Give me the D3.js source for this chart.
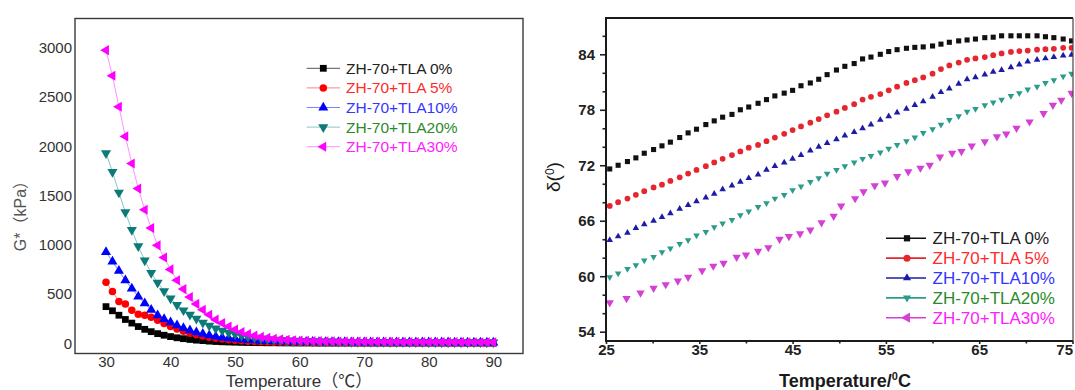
<!DOCTYPE html>
<html>
<head>
<meta charset="utf-8">
<script src="https://cdn.jsdelivr.net/npm/d3@7/dist/d3.min.js"></script>
<style>
  body {margin: 0; background: #fff;}
  svg {display: block;}
</style>
</head>
<body>
<div id="chart"></div>
<script>
// ---- data ----
const seriesNames = ['ZH-70+TLA 0%', 'ZH-70+TLA 5%', 'ZH-70+TLA10%', 'ZH-70+TLA20%', 'ZH-70+TLA30%'];

// left panel: G* (kPa) vs temperature
const tempsG = [30,31,32,33,34,35,36,37,38,39,40,41,42,43,44,45,46,47,48,49,50,51,52,53,54,55,56,57,58,59,
  60,61,62,63,64,65,66,67,68,69,70,71,72,73,74,75,76,77,78,79,80,81,82,83,84,85,86,87,88,89,90];
const gTLA0 = [372,330,285,242,205,170,142,118,98,82, 68,56,47,39,32,27,22,18,15,13, 11,9,8,7,6,5,5,4,4,3,
  3,3,3,2,2,2,2,2,2,2, 2,2,2,2,2,2,2,2,2,2, 2,2,2,2,2,2,2,2,2,2, 2];
const gTLA5 = [620,525,425,400,335,295,285,265,233,200, 170,145,122,103,87,73,61,51,43,36, 30,25,21,18,15,13,11,10,9,8,
  7,7,6,6,6,5,5,5,5,5, 4,4,4,4,4,4,4,3,3,3, 3,3,3,3,3,3,3,3,3,3, 3];
const gTLA10 = [926,830,735,640,555,475,405,340,285,245, 212,182,155,132,112,95,81,69,59,51, 44,38,33,29,26,23,21,19,17,16,
  15,14,14,13,13,12,12,12,11,11, 11,11,10,10,10,10,10,9,9,9, 9,9,9,9,8,8,8,8,8,8, 8];
const gTLA20 = [1930,1740,1530,1330,1150,985,840,715,615,530, 455,390,335,290,250,210,180,152,128,108, 92,78,66,57,49,43,38,34,30,27,
  25,23,21,20,19,18,17,16,15,15, 14,14,13,13,12,12,12,11,11,11, 10,10,10,10,9,9,9,9,9,8, 8];
const gTLA30 = [2975,2715,2400,2100,1825,1570,1355,1170,994,870, 750,640,550,470,400,340,290,240,205,170, 140,115,95,78,65,55,47,40,35,31,
  28,26,24,22,21,20,19,18,18,17, 17,16,16,15,15,15,14,14,14,13, 13,13,12,12,12,12,11,11,11,11, 10];
const gTicksY = [0, 500, 1000, 1500, 2000, 2500, 3000];
const gTicksX = [30, 40, 50, 60, 70, 80, 90];

// right panel: phase angle (deg) vs temperature
const tempsD = [25.4,26.3,27.3,28.2,29.1,30.1,31.0,31.9,32.9,33.8,34.7,35.7,36.6,37.5,38.5,39.4,40.3,41.3,42.2,43.1,
  44.1,45.0,45.9,46.9,47.8,48.7,49.7,50.6,51.6,52.5,53.4,54.4,55.3,56.2,57.2,58.1,59.0,60.0,60.9,61.8,
  62.8,63.7,64.6,65.6,66.5,67.4,68.4,69.3,70.2,71.2,72.1,73.0,74.0,74.9];
const dTLA0 = [71.6,72.0,72.4,72.8,73.3,73.7,74.1,74.5,75.0,75.5,75.9,76.4,76.8,77.2,77.5,78.0,78.3,78.7,79.1,79.5,
  79.8,80.1,80.6,80.9,81.3,81.8,82.3,82.7,83.0,83.5,83.7,84.0,84.3,84.5,84.65,84.75,84.8,84.9,85.1,85.3,
  85.45,85.55,85.65,85.8,85.85,86.0,86.0,86.0,86.0,86.0,85.9,85.8,85.65,85.45];
const dTLA5 = [67.6,68.0,68.4,68.8,69.2,69.6,69.9,70.3,70.7,71.1,71.5,71.9,72.3,72.7,73.1,73.5,73.9,74.2,74.6,75.0,
  75.4,75.8,76.2,76.6,77.0,77.4,77.8,78.2,78.6,79.1,79.4,79.7,80.1,80.5,80.9,81.2,81.5,81.9,82.4,82.8,
  83.1,83.4,83.55,83.7,83.9,84.1,84.25,84.35,84.4,84.5,84.55,84.6,84.7,84.7];
const dTLA10 = [63.9,64.3,64.7,65.2,65.6,66.0,66.4,66.8,67.3,67.7,68.1,68.5,68.9,69.4,69.8,70.2,70.6,71.0,71.5,71.9,
  72.3,72.7,73.1,73.6,74.0,74.4,74.8,75.2,75.6,76.0,76.4,76.9,77.3,77.7,78.1,78.5,78.9,79.4,79.9,80.3,
  80.8,81.3,81.5,81.8,82.1,82.3,82.6,82.9,83.2,83.4,83.55,83.7,83.85,83.95];
const dTLA20 = [59.9,60.3,60.8,61.2,61.7,62.1,62.6,63.0,63.5,63.9,64.4,64.8,65.3,65.7,66.1,66.6,67.0,67.5,67.9,68.4,
  68.8,69.3,69.7,70.2,70.6,71.1,71.5,71.9,72.3,72.7,73.0,73.4,73.8,74.2,74.6,75.0,75.5,75.9,76.4,76.9,
  77.3,77.8,78.1,78.5,78.8,79.1,79.5,79.8,80.2,80.5,80.9,81.2,81.6,81.9];
const tempsD30 = [25.4,27.2,28.7,30.1,31.4,32.7,33.8,35.3,36.5,37.6,39.0,40.0,41.3,42.4,43.6,44.6,45.8,46.9,48.1,49.4,
  50.2,51.7,52.6,53.8,54.9,56.2,57.4,58.7,59.7,60.8,62.1,63.1,64.2,65.6,66.9,67.9,69.0,70.4,71.9,72.9,73.8,74.9];
const dTLA30 = [57.15,57.6,58.2,58.7,59.1,59.5,59.9,60.6,61.1,61.4,62.05,62.3,62.7,63.1,64.0,64.3,64.6,65.0,65.8,66.5,
  67.6,68.4,69.15,69.8,70.1,70.8,71.3,71.7,72.0,72.9,73.3,73.5,74.1,74.55,75.1,75.4,76.0,76.7,77.6,78.5,79.05,79.8];
const dTicksY = [54, 60, 66, 72, 78, 84];
const dMinorY = [56, 58, 62, 64, 68, 70, 74, 76, 80, 82, 86];
const dTicksX = [25, 35, 45, 55, 65, 75];
const dMinorX = [30, 40, 50, 60, 70];

// ---- look ----
const FONT = '"Liberation Sans", Arial, "Noto Sans CJK SC", sans-serif';
const STYLE = [
  {mark: '#000000', line: '#555555', text: '#222222', type: d3.symbolSquare, rot: 0, gSize: 46, dMark: '#111111', dSize: 26},
  {mark: '#ff0000', line: '#ff8080', text: '#ff2a2a', type: d3.symbolCircle, rot: 0, gSize: 44, dMark: '#e5262e', dSize: 26},
  {mark: '#0000ff', line: '#8080ff', text: '#3535ff', type: d3.symbolTriangle, rot: 0, gSize: 44, dMark: '#1c1ca6', dSize: 19},
  {mark: '#0b7a78', line: '#8cc4c2', text: '#2a8a2a', type: d3.symbolTriangle, rot: 180, gSize: 44, dMark: '#2a9c8c', dSize: 19},
  {mark: '#ff00ff', line: '#ff90ff', text: '#ff20ff', type: d3.symbolTriangle, rot: -90, gSize: 44, dMark: '#d43fd4', dSize: 30}
];

const svg = d3.select('#chart').append('svg')
  .attr('width', 1075)
  .attr('height', 390)
  .style('font-family', FONT);

function marker(g, st, x, y, size, color, rot) {
  g.append('path')
    .attr('d', d3.symbol().type(st.type).size(size)())
    .attr('transform', 'translate(' + x + ',' + y + ') rotate(' + rot + ')')
    .attr('fill', color);
}

// ---------- left panel ----------
function drawModulus() {
  const x = d3.scaleLinear().domain([30, 90]).range([106, 493.3]);
  const y = d3.scaleLinear().domain([0, 3000]).range([343.3, 47.7]);
  const frame = {left: 75, right: 523, top: 18.5, bottom: 353.5};
  const series = [gTLA0, gTLA5, gTLA10, gTLA20, gTLA30];

  const g = svg.append('g');

  g.append('rect')
    .attr('x', frame.left).attr('y', frame.top)
    .attr('width', frame.right - frame.left).attr('height', frame.bottom - frame.top)
    .attr('fill', 'none').attr('stroke', '#3a3a3a').attr('stroke-width', 1.4);

  const yAxis = d3.axisLeft(y).tickValues(gTicksY).tickSize(0).tickPadding(3).tickFormat(d3.format('d'));
  g.append('g')
    .attr('transform', 'translate(' + frame.left + ',0)')
    .call(yAxis)
    .call(s => s.select('.domain').remove())
    .selectAll('text')
    .style('font-size', '15px').style('font-family', FONT).attr('fill', '#333');

  const xAxis = d3.axisBottom(x).tickValues(gTicksX).tickSize(0).tickPadding(3).tickFormat(d3.format('d'));
  g.append('g')
    .attr('transform', 'translate(0,' + frame.bottom + ')')
    .call(xAxis)
    .call(s => s.select('.domain').remove())
    .selectAll('text')
    .style('font-size', '15px').style('font-family', FONT).attr('fill', '#333');

  series.forEach(function (vals, k) {
    const st = STYLE[k];
    const line = d3.line().x((d, i) => x(tempsG[i])).y(d => y(d));
    g.append('path')
      .datum(vals)
      .attr('d', line)
      .attr('fill', 'none').attr('stroke', st.line).attr('stroke-width', 1);
    const pts = g.append('g');
    vals.forEach(function (v, i) {
      marker(pts, st, x(tempsG[i]), y(v), st.gSize, st.mark, st.rot);
    });
  });

  // legend
  const lg = g.append('g');
  seriesNames.forEach(function (name, k) {
    const st = STYLE[k];
    const ry = 68.3 + k * 19.6;
    lg.append('line')
      .attr('x1', 306.7).attr('x2', 340).attr('y1', ry).attr('y2', ry)
      .attr('stroke', st.line).attr('stroke-width', 1);
    marker(lg, st, 323.3, ry, st.gSize, st.mark, st.rot);
    lg.append('text')
      .attr('x', 346).attr('y', ry).attr('dy', '0.36em')
      .style('font-size', '15.5px').attr('fill', st.text)
      .text(name);
  });

  g.append('text')
    .attr('x', 299).attr('y', 387)
    .attr('text-anchor', 'middle')
    .style('font-size', '17px').attr('fill', '#333')
    .text('Temperature（℃）');

  g.append('text')
    .attr('transform', 'translate(26,212) rotate(-90)')
    .attr('text-anchor', 'middle')
    .style('font-size', '16px').attr('fill', '#555')
    .text('G*（kPa）');
}

// ---------- right panel ----------
function drawPhase() {
  const x = d3.scaleLinear().domain([25, 75]).range([606, 1072.5]);
  const y = d3.scaleLinear().domain([54, 84]).range([331.7, 54.3]);
  const frame = {left: 606, right: 1073, top: 18, bottom: 341};
  const series = [dTLA0, dTLA5, dTLA10, dTLA20, dTLA30];
  const temps = [tempsD, tempsD, tempsD, tempsD, tempsD30];

  const g = svg.append('g');

  svg.append('clipPath').attr('id', 'clipD')
    .append('rect')
    .attr('x', frame.left).attr('y', frame.top)
    .attr('width', frame.right - frame.left).attr('height', frame.bottom - frame.top);

  const yAxis = d3.axisLeft(y).tickValues(dTicksY).tickSize(6).tickPadding(5).tickFormat(d3.format('d'));
  const yMinor = d3.axisLeft(y).tickValues(dMinorY).tickSize(3.5).tickFormat('');
  const xAxis = d3.axisBottom(x).tickValues(dTicksX).tickSize(3).tickPadding(0).tickFormat(d3.format('d'));
  const xMinor = d3.axisBottom(x).tickValues(dMinorX).tickSize(2.5).tickFormat('');

  [yAxis, yMinor].forEach(function (ax) {
    g.append('g')
      .attr('transform', 'translate(' + frame.left + ',0)')
      .call(ax)
      .call(s => s.select('.domain').remove())
      .call(s => s.selectAll('line').attr('stroke', '#222').attr('stroke-width', 1.6));
  });
  [xAxis, xMinor].forEach(function (ax) {
    g.append('g')
      .attr('transform', 'translate(0,' + frame.bottom + ')')
      .call(ax)
      .call(s => s.select('.domain').remove())
      .call(s => s.selectAll('line').attr('stroke', '#222').attr('stroke-width', 1.6));
  });
  g.selectAll('.tick text')
    .style('font-size', '15px').style('font-weight', 'bold').style('font-family', FONT)
    .attr('fill', '#222');
  // the last label sits on the cropped edge: keep it inside the picture
  g.selectAll('.tick text')
    .filter(d => d === 75)
    .attr('text-anchor', 'end')
    .attr('dx', 0);

  const plot = g.append('g').attr('clip-path', 'url(#clipD)');
  series.forEach(function (vals, k) {
    const st = STYLE[k];
    vals.forEach(function (v, i) {
      marker(plot, st, x(temps[k][i]), y(v), st.dSize, st.dMark, k === 4 ? 180 : st.rot);
    });
  });

  // frame
  g.append('path')
    .attr('d', 'M' + frame.right + ',' + frame.top + 'H' + frame.left + 'V' + frame.bottom + 'H' + frame.right)
    .attr('fill', 'none').attr('stroke', '#1a1a1a').attr('stroke-width', 2);
  g.append('line')
    .attr('x1', frame.right).attr('x2', frame.right).attr('y1', frame.top).attr('y2', frame.bottom)
    .attr('stroke', '#444').attr('stroke-width', 1.2);

  // legend
  const lg = g.append('g');
  seriesNames.forEach(function (name, k) {
    const st = STYLE[k];
    const ry = 238.3 + k * 19.85;
    lg.append('line')
      .attr('x1', 886).attr('x2', 926).attr('y1', ry).attr('y2', ry)
      .attr('stroke', st.dMark).attr('stroke-width', 1.6);
    marker(lg, st, 907, ry, st.dSize * 1.5, st.dMark, st.rot);
    lg.append('text')
      .attr('x', 932.5).attr('y', ry).attr('dy', '0.36em')
      .style('font-size', '17px').attr('fill', st.text)
      .text(name);
  });

  const xt = g.append('text')
    .attr('x', 845).attr('y', 387)
    .attr('text-anchor', 'middle')
    .style('font-size', '18px').style('font-weight', 'bold').attr('fill', '#1a1a1a');
  xt.append('tspan').text('Temperature/');
  xt.append('tspan').attr('dy', -7).style('font-size', '11px').text('0');
  xt.append('tspan').attr('dy', 7).text('C');

  const yt = g.append('text')
    .attr('transform', 'translate(560,177) rotate(-90)')
    .attr('text-anchor', 'middle')
    .style('font-size', '19px').attr('fill', '#1a1a1a');
  yt.append('tspan').text('δ(');
  yt.append('tspan').attr('dy', -6).style('font-size', '12px').text('0');
  yt.append('tspan').attr('dy', 6).text(')');
}

drawModulus();
drawPhase();
</script>
</body>
</html>
